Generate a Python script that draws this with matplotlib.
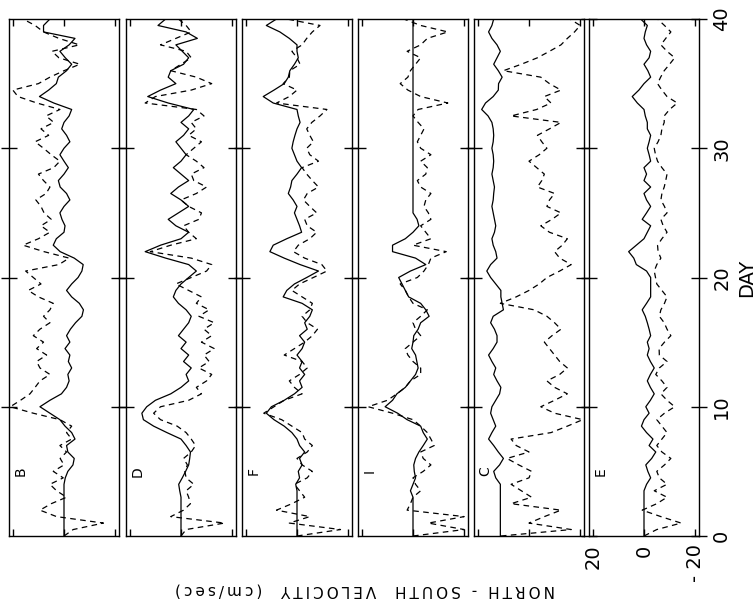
import numpy as np
import matplotlib
matplotlib.use("Agg")
import matplotlib.pyplot as plt

days = np.arange(0, 40.5, 0.5)

labels = ["B", "D", "F", "I", "C", "E"]

B_solid = [0, 0, 0, 0, 0, 0, 0, 0, 0, -0.5,
           -1.5, -3.5, -4, -1.5, -1, -4.3, -3, -0.4, 1.6, 5.5,
           9.4, 5.5, 1, -1, -2, -1.5, -3, -1.7, -2.3, -0.4,
           -2.3, -1, -2.5, -4.5, -7, -7.6, -6, -3, -1, -3,
           -5.5, -7, -7.5, -4, 1.5, 4.2, 3, 0, -0.4, 0.8,
           1.6, 0, -2.3, -1, 1.5, 2.2, 0, -1.7, 0, 1.6,
           0, -2.3, -1, 0.9, 0, -2, -3, 4, 9.6, 6,
           3, 2.2, -1, -3, -0.5, 1.6, -2, -4.3, 8, 8,
           5.5]
B_dashed = [0, -3.6, -15.4, 2.9, 9.4, 5, -1, 2.9, 5.5, 0.3,
            4.2, 0, 1.5, -1, 1.6, -3, -1, -3, 1.6, 12,
            21, 17, 13.3, 11.3, 9.4, 5.5, 9.4, 10.7, 6.8, 10.7,
            8, 12, 9.4, 5.5, 8, 5.5, 4.2, 10, 14, 9,
            12, 15, 2, -2, 7.8, 16, 10, 5.5, 9, 5,
            7.8, 9, 11, 7, 5.5, 8, 10, 4, 1.6, 5,
            8, 11.3, 6, 9, 4, 7, 1.6, 10.6, 18, 20,
            10, 5.5, 0, -6.2, 2, 4.7, -6, 2, 8, 11.3,
            16]
D_solid = [0, 0, 0, 0, 0, 0, 0, 0.5, 0.9, -0.5,
           -1.8, -3, -3.4, -3.7, -2, 0, 5.5, 10.7, 14.7, 15.3,
           13.4, 10, 4, 0, -3, -2, -4, -1, -3, 0,
           -2, 1, -1, -3, -4, -2, 1, 3, 2, 0,
           -3, -6, -3, 6, 14, 8, 0, -3, 2, 5,
           1, -3, 0, 4, 1, -3, 0, 3, 0, -2,
           0, 2, -1, -3, 0, -3, -5, 5, 13, 8,
           2, 5, 4, -1, -3, -0.5, 2, -6.4, -2, 9,
           6]
D_dashed = [0, -2, -17, 4, -1, -3.7, -3, -2, -5, -2,
            -1.5, -2.5, -1, -4, -5.7, -4, -2, 1.5, 8, 10.7,
            8, -3, -8, -6, -10, -12, -7, -11, -9, -13,
            -8, -12, -9, -13, -7, -11, -6, -8, -3, 2,
            -4, -10, -12, -4, 12, 4, -6, -3, -1, -7,
            -8, -3, 0, -6, -10, -5, -4, -9, -6, -2,
            -5, -8, -3, -6, -4, -9, -6, 14, 10, -4,
            -12, -6, 4, 0, -4, -2, 8, 2, -4, -2,
            1]
F_solid = [0, 0, 0, 0, 0, 0, 0, 0, 0.5, -1,
           -0.5, -2, -1, -3, -1, 0, 2, 5, 9, 12,
           10, 5, 1, -2, -1, -3, -1, -2, 0, -2,
           -3, -1, -4, -3, -5, -6, -2, 5.4, 4, 1,
           -3.8, -8.4, -1.2, 5, 10.6, 9.3, 4, -1.8, -1, 0,
           1, 0, 1.5, 3.4, 2.5, 2, 0, -1.8, 0, 1,
           2, 1.5, 0.8, 0, -1.2, -0.5, 0, 9.3, 13.2, 9,
           5, 3.4, 2.8, 1, -0.5, 0, 0, 3, 6.7, 12,
           8]
F_dashed = [0, -17, 3, -5, 8, 2, -3, -1, 1, -4,
            -6, -2, 0, -4, -6, -3, -2, 2, 6, 13,
            9, 5, -2, 1, 3, -1, -4, -2, 5, 1,
            -3, -6, -8, -4, -2, -5, -6, -2, 2, -1,
            -6.4, -11.7, -9.7, -3, 1.4, -0.5, -5, -7.7, -4, -3,
            -7.7, -5, -2.5, -4, -8.4, -6, -3.8, -2, -8.4, -5,
            -3.8, -6.4, -5, -3.8, -5.8, -9, -11.7, 8, 3, 0,
            5.4, 3, 2.8, -1.2, 0, 2, -2, -3.8, -6, -9,
            4]
I_solid = [0, 0, 0, 0, 0, 0, 0, 1, 0, -1,
           -0.5, -0.3, -1, -2.3, -4, -5.6, -4, -3, 2.3, 6,
           10.9, 8, 6.3, 3, 1, -1, -2, -1.5, -1, 0.5,
           0, -0.3, -2, -3, -6.3, -5, -3, 1.7, 3, 4.3,
           5.6, 1, -5, -1, 8, 8, 3, 0, -2.3, -1.6,
           0, 0, 0, 0, 0, 0, 0, 0, 0, 0,
           0, 0, 0, 0, 0, 0, 0, 0, 0, 0,
           0, 0, 0, 0, 0, 0, 0, 0, 0, 0,
           0]
I_dashed = [0, -20, -6, -20, 2.3, 1, 0, -3, -1, 0,
            -4, -7, -4, -3, -8.3, -7, -5.6, -3, 0, 8,
            17.5, 10, 6.3, 3, 1, -3, -3, 0, 2, 3,
            0, -3, -1, 0, -3, -5.6, 0, 1.7, 3, 5,
            -1.7, -4.3, -6, -7, -13, 0, -7, -5, -3, -7,
            -6, -4.3, -5, -7, -3, -1.7, -5, -5.6, -3, -7,
            -3, -1.7, -3, -4.3, -2, 0, -2, -13.6, -3, 2,
            5, 2, 1, -1, -3, 2.3, -3, -5.6, -13.6, -3,
            3.6]
C_solid = [11.2, 11.2, 11.2, 11.2, 11.2, 11.2, 11.2, 11.2, 11.2, 13,
           13.8, 11.5, 10, 12, 13.8, 15.8, 14.5, 13, 14, 15,
           14.5, 13, 11.5, 11, 12.5, 13.8, 13, 14.5, 15.8, 14,
           12.5, 12.5, 13.5, 15, 14, 10, 10.5, 11, 11, 13,
           15, 16.5, 15, 12.5, 13, 14, 14.5, 13.5, 13, 13.5,
           14, 14.5, 14, 13.8, 13.5, 14, 14.5, 14, 13.8, 14,
           14.5, 14, 13.8, 14, 14.5, 16, 18.5, 17, 14, 12,
           11.9, 10.5, 12, 13.8, 12.5, 11.2, 12.5, 14.5, 15.8, 14.5,
           13.8]
C_dashed = [11, -16.5, 0, -6, -12.5, 7, -1, 3, 7, 0,
            -1, 4, 8.6, 0, 5, 7, -8.6, -15, -21, -10,
            -4.6, -10, -15, -10, -7, -12, -15, -12, -10, -8,
            -6, -9, -12.5, -10, -7, -2, 11.2, 5, 0, -4,
            -7, -12, -16.5, -12, -10, -13, -15, -8, -4.6, -9,
            -12.5, -7, -8, -10, -3.3, -5, -6, -3, 0, -4,
            -7, -5, -3.3, -8, -12.5, 7, -3, -8.6, -6, -12.5,
            -8, -4.6, 10, 3, -3.3, -8, -12.5, -15, -17.8, -20,
            -16]
E_solid = [0, 0, 0, 0, 0, 0, 0, 0, -1, -2.6,
           -1.5, -0.7, -3, -4.6, -2, -3.5, -1, 1, 0, -2,
           -0.7, -2.5, -4, -2.5, -1.3, -2.5, -4, -2.5, -1.3, -2,
           -1.3, -2.6, -2, -1.3, -0.5, 0.7, -1, -2.6, -2.6, -2.6,
           -2.6, -1, 3, 4, 6, 3, 0, -1.3, -2.6, 0.7,
           -1, -2.6, -1, 0, -2.6, 0, -1, 0, -2.6, -2,
           -1.3, -2, -2.6, -1.3, -1.3, -0.5, 0, 2.6, 4.6, 2,
           0, -2.6, -1.5, 0, -2, -2.6, -1, 0, -0.5, -1.3,
           1.3]
E_dashed = [0, -5, -14.5, -6.6, 0.7, -5, -9, -4, -9, -6,
            -5, -8, -10.5, -7, -5, -7, -9, -7, -5, -8,
            -12, -9, -6.6, -9, -7, -4.6, -6, -9, -6, -5.9,
            -8, -10.5, -9, -7.9, -6, -6.6, -8, -9, -7, -5,
            -4.5, -4, -5, -6.6, -5.5, -5.3, -7, -9, -7.5, -6.6,
            -9, -8, -6.6, -7, -7.9, -8.5, -9, -7, -5.3, -4.5,
            -4, -5.5, -6.6, -7, -7.9, -7.9, -10, -13, -9, -7,
            -5.3, -6.5, -7.9, -10, -12, -9, -6.6, -8.5, -10.5, -8,
            -5.3]

solid = {"B": B_solid, "D": D_solid, "F": F_solid, "I": I_solid, "C": C_solid, "E": E_solid}
dashed = {"B": B_dashed, "D": D_dashed, "F": F_dashed, "I": I_dashed, "C": C_dashed, "E": E_dashed}

day_ticks = [0, 10, 20, 30, 40]
day_ticklabels = ["0", "10", "20", "30", "40"]
vel_ticks = [-20, 0, 20]
vel_ticklabels = ["- 20", "0", "20"]

fig = plt.figure(figsize=(7.55, 6.04), dpi=100)
W, H = 755.0, 604.0
lefts = [9, 126, 242, 358, 474, 589]
pw = 110
top, bot = 19, 536

for i, lab in enumerate(labels):
    ax = fig.add_axes([lefts[i] / W, (H - bot) / H, pw / W, (bot - top) / H])
    n = min(len(days), len(solid[lab]))
    ax.plot(solid[lab][:n], days[:n], color="black", lw=0.9)
    m = min(len(days), len(dashed[lab]))
    ax.plot(dashed[lab][:m], days[:m], color="black", lw=0.9, ls=(0, (4.5, 3.5)))
    ax.set_xlim(21.5, -21.5)
    ax.set_ylim(0, 40)
    ax.set_yticks([10, 20, 30])
    ax.set_xticks(vel_ticks)
    ax.tick_params(axis="x", direction="in", length=5, width=1, top=True,
                   labelbottom=False)
    ax.tick_params(axis="y", direction="inout", length=11, width=1, right=True,
                   labelleft=False)
    for s in ax.spines.values():
        s.set_linewidth(1.0)
    ax.text(17, 5.0, lab, rotation=90, ha="center", va="center", fontsize=10)
    if lab == "E":
        ax.set_yticks(day_ticks)
        ax.tick_params(axis="y", labelright=True, pad=4)
        ax.tick_params(axis="x", labelbottom=True, pad=6)
        ax.set_yticklabels(day_ticklabels, rotation=90, va="center", fontsize=14)
        ax.set_xticklabels(vel_ticklabels, rotation=90, ha="center", va="top", fontsize=14)
        ax.yaxis.set_label_position("right")
        ax.set_ylabel("DAY", rotation=90, fontsize=14, labelpad=4)

ylab = "NORTH - SOUTH  VELOCITY  (cm/sec)"
spaced = "\u2009".join(list(ylab))
fig.text(365 / W, 1 - 590 / H, spaced, rotation=180,
         ha="center", va="center", fontsize=11)

fig.savefig("out.png", dpi=100)
